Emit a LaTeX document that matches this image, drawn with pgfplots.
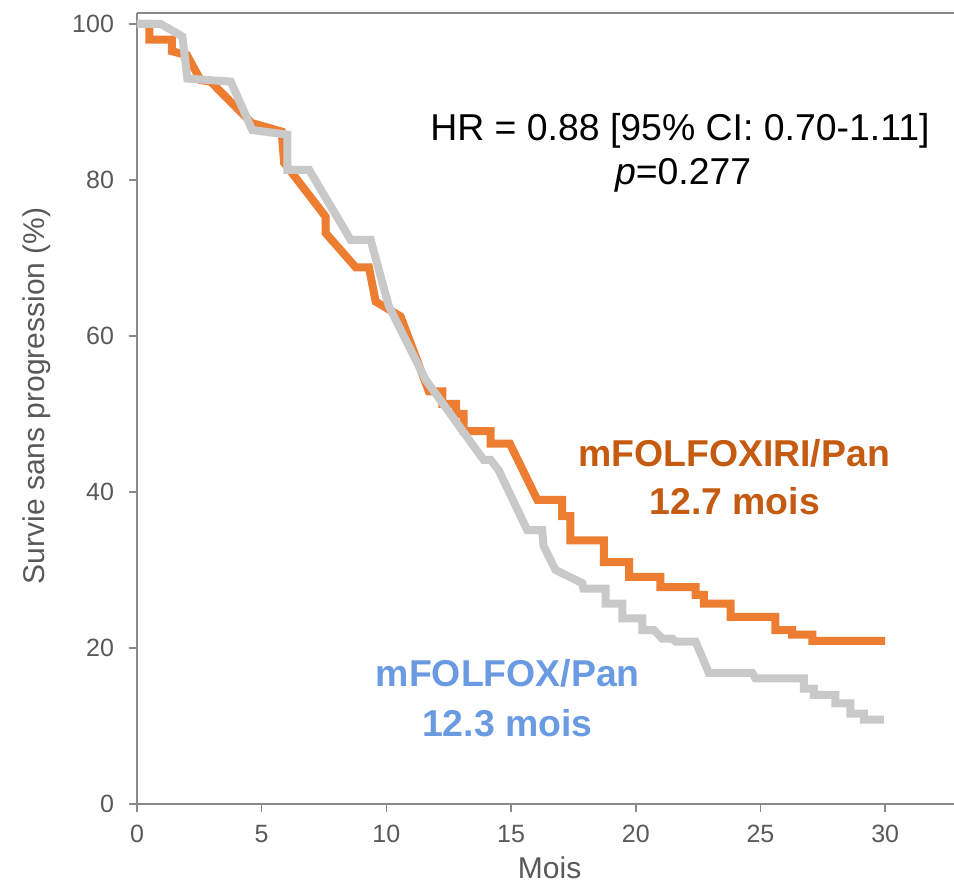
\documentclass[border=0pt]{standalone}
\usepackage{pgfplots}
\pgfplotsset{compat=1.18}
\usepackage{fontspec}
\setmainfont{Liberation Sans}

\definecolor{orangeline}{HTML}{ED7D31}
\definecolor{grayline}{HTML}{C9C9C9}
\definecolor{orangetxt}{HTML}{C55A11}
\definecolor{bluetxt}{HTML}{6A9BE2}
\definecolor{axisgray}{HTML}{898989}
\definecolor{ticktxt}{HTML}{595959}

\begin{document}
\begin{tikzpicture}
\useasboundingbox (-68.5pt,-39pt) rectangle (408.5pt,402pt);
\begin{axis}[
    scale only axis,
    width=408.5pt, height=395.5pt,
    xmin=0, xmax=32.76,
    ymin=0, ymax=101.4,
    axis lines=left,
    axis line style={-, draw=axisgray, line width=1.2pt},
    tick align=outside,
    major tick length=4pt,
    tick style={axisgray, line width=0.8pt},
    xtick={0,5,...,30},
    ytick={0,20,...,100},
    /pgf/number format/assume math mode=true,
    ticklabel style={font=\fontsize{12.5}{15}\selectfont, text=ticktxt},
    xticklabel style={yshift=-3pt},
    yticklabel style={xshift=-4pt},
    clip=false,
]
% mFOLFOXIRI/Pan
\addplot[orangeline, line width=4pt, line join=miter] coordinates {
(0,100) (0.5,100) (0.5,98) (1.4,98) (1.4,96.5) (2.0,96) (2.55,92.8) (2.95,92.6)
(4.6,87.3) (5.8,86.2) (5.9,82.2) (7.56,75.3) (7.56,73.2) (8.77,68.8) (9.3,68.8)
(9.57,64.4) (10.57,62.5) (11.7,52.9) (12.24,52.9) (12.24,51.3) (12.8,51.3)
(12.8,50.0) (13.1,50.0) (13.1,47.8) (14.18,47.8) (14.18,46.2) (14.95,46.2)
(16.05,39.0) (17.05,39.0) (17.05,36.9) (17.38,36.9) (17.38,33.8) (18.72,33.8)
(18.72,31.0) (19.73,31.0) (19.73,29.1) (20.99,29.1) (20.99,27.8) (22.4,27.8)
(22.4,26.8) (22.73,26.8) (22.73,25.7) (23.8,25.7) (23.8,24.0) (25.6,24.0)
(25.6,22.3) (26.27,22.3) (26.27,21.7) (27.08,21.7) (27.08,20.9) (30.0,20.9)
};
% mFOLFOX/Pan
\addplot[grayline, line width=4pt, line join=miter] coordinates {
(0,100) (0.95,100) (1.82,98.4) (2.02,93.0) (3.76,92.6) (4.62,86.4) (6.03,85.8)
(6.03,81.3) (6.9,81.3) (8.57,72.3) (9.37,72.3) (10.1,63.8) (11.57,54.4)
(13.9,44.1) (14.18,44.1) (14.5,42.8) (15.65,35.1) (16.25,35.1) (16.3,33.1)
(16.78,30.0) (17.86,28.3) (17.9,27.6) (18.79,27.6) (18.79,25.7) (19.46,25.7)
(19.46,23.8) (20.26,23.8) (20.26,22.3) (20.73,22.3) (21.06,21.2) (21.47,21.2)
(21.6,20.8) (22.4,20.8) (22.93,16.8) (24.67,16.8) (24.8,16.1) (26.74,16.1)
(26.74,14.8) (27.14,14.8) (27.14,14.0) (28.0,14.0) (28.0,12.9) (28.6,12.9)
(28.6,11.6) (29.15,11.6) (29.15,10.8) (29.95,10.8)
};
\draw[axisgray, line width=1.2pt] (rel axis cs:0,1) -- (rel axis cs:1,1);

\node[anchor=base, font=\fontsize{18.7}{22}\selectfont] at (axis cs:21.77,85.04)
  {HR = 0.88 [95\% CI: 0.70-1.11]};
\node[anchor=base, font=\fontsize{18.7}{22}\selectfont] at (axis cs:21.9,79.36)
  {\textit{p}=0.277};
\node[anchor=base, font=\bfseries\fontsize{18.7}{22}\selectfont, text=orangetxt]
  at (axis cs:23.94,43.25) {mFOLFOXIRI/Pan};
\node[anchor=base, font=\bfseries\fontsize{18.7}{22}\selectfont, text=orangetxt]
  at (axis cs:23.97,37.05) {12.7 mois};
\node[anchor=base, font=\bfseries\fontsize{18.7}{22}\selectfont, text=bluetxt]
  at (axis cs:14.87,15.04) {mFOLFOX/Pan};
\node[anchor=base, font=\bfseries\fontsize{18.7}{22}\selectfont, text=bluetxt]
  at (axis cs:14.85,8.63) {12.3 mois};

\node[anchor=base, font=\fontsize{15}{18}\selectfont, text=ticktxt]
  at (axis description cs:0.505,-0.0936) {Mois};
\node[anchor=base, rotate=90, font=\fontsize{15}{18}\selectfont, text=ticktxt]
  at (axis description cs:-0.1138,0.516) {Survie sans progression (\%)};
\end{axis}
\end{tikzpicture}
\end{document}
